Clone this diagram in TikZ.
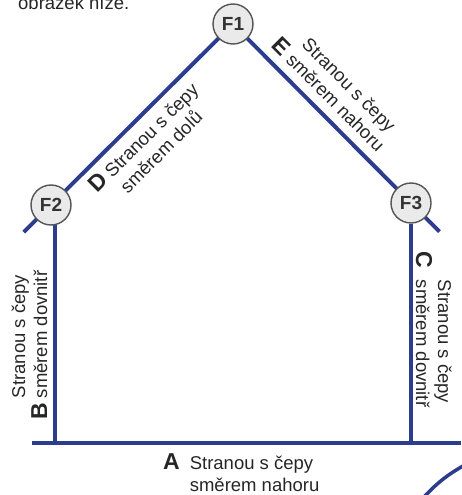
\documentclass[tikz,border=0pt]{standalone}
\usepackage{fontspec}
\setmainfont{Liberation Sans}
\usepackage{xcolor}
\usepackage{tikz}
\usetikzlibrary{calc,backgrounds}
\definecolor{BeamBlue}{HTML}{2C3D8F}
\definecolor{PinFill}{HTML}{EAEAEA}
\definecolor{PinBorder}{HTML}{555555}
\definecolor{PinText}{HTML}{333333}
\newcommand{\sidetag}[1]{{\fontsize{23}{23}\selectfont\bfseries #1}}
\newcommand{\sidetext}[3][t]{\begin{tabular}[#1]{@{}l@{}}#2\\#3\end{tabular}}

\begin{document}
\begin{tikzpicture}[x=1pt, y=-1pt,
    pin/.style={circle, draw=PinBorder, line width=1.4pt, fill=PinFill,
      minimum size=40pt, inner sep=0pt, text=PinText,
      font=\fontsize{19}{19}\selectfont\bfseries},
    beam/.style={draw=BeamBlue, line width=4pt},
    side/.style={inner sep=0pt, font=\fontsize{18.5}{22}\selectfont, text=black!85}
  ]
    \useasboundingbox (0,0) rectangle (461,495);
    \node[side, anchor=base west] (intro) at (18,10) {obrázek níže.};
    \node[pin] (F1) at (233,24) {F1};
    \node[pin] (F2) at (51,205) {F2};
    \node[pin] (F3) at (411,203) {F3};
    \coordinate (eaveL) at ($(F2)!-0.15!(F1)$);
    \coordinate (eaveR) at ($(F3)!-0.16!(F1)$);
    \coordinate (A1) at (32,443);
    \coordinate (A2) at (461,443);
    \coordinate (B1) at (55,443);
    \coordinate (C1) at (411,443);
    \begin{scope}[on background layer]
      \draw[beam] (eaveL) -- (F1.center) -- (eaveR);
      \draw[beam, line width=3.6pt] (F2 -| B1) -- (B1);
      \draw[beam, line width=3.6pt] (F3) -- (C1);
      \draw[beam] (A1) -- (A2);
    \end{scope}
    \draw[beam, line width=3.5pt] (424,497) .. controls (436,484) and (447,475) .. (463,466);
    \node[side, anchor=base west] (A) at (163,469)
      {\sidetag{A}\hspace{10pt}\sidetext{Stranou s čepy}{směrem nahoru}};
    \node[side, rotate=90, anchor=base west] (B) at (47,420)
      {\sidetag{B}\hspace{5pt}\sidetext[b]{Stranou s čepy}{směrem dovnitř}};
    \node[side, rotate=-90, anchor=base west] (C) at (416,251)
      {\sidetag{C}\hspace{12pt}\sidetext[b]{Stranou s čepy}{směrem dovnitř}};
    \node[side, rotate=45, anchor=base west] (D) at (97,194)
      {\sidetag{D}\hspace{5pt}\sidetext{Stranou s čepy}{směrem dolů}};
    \node[side, rotate=-45, anchor=base west] (E) at (270,46)
      {\sidetag{E}\hspace{6pt}\sidetext[b]{Stranou s čepy}{směrem nahoru}};
  \end{tikzpicture}
\end{document}
